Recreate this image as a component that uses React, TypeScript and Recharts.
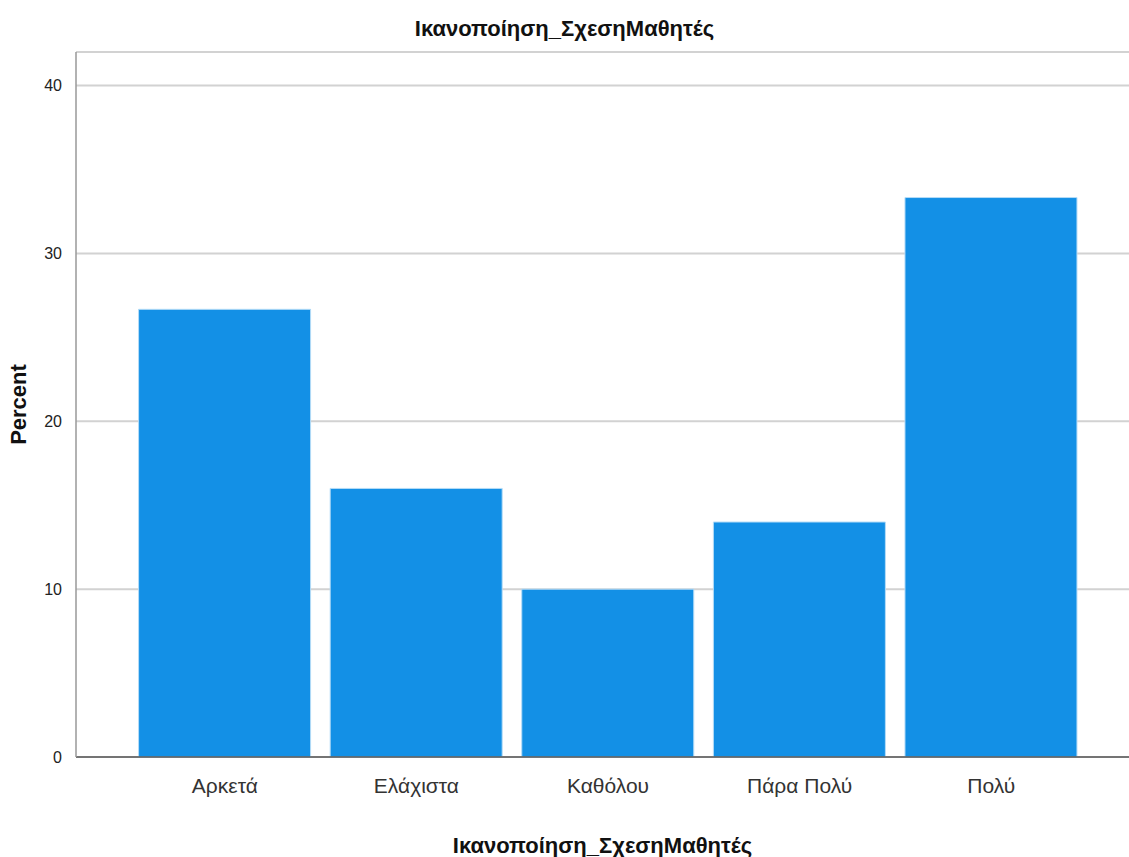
import { Bar, BarChart, CartesianGrid, XAxis, YAxis } from "recharts";

const categories = ["Αρκετά", "Ελάχιστα", "Καθόλου", "Πάρα Πολύ", "Πολύ"];
const percents = [26.67, 16.0, 10.0, 14.0, 33.33];
const yTicks = [0, 10, 20, 30, 40];
const varName = "Ικανοποίηση_ΣχεσηΜαθητές";

const data = categories.map((name, i) => ({ name, value: percents[i] }));

const font = "'Liberation Sans Narrow', 'Arial Narrow', Arial, sans-serif";

const App: React.FC = () => {
  return (
    <div style={{ position: "absolute", left: 0, top: 0, width: 1129, height: 857, background: "#fff", fontFamily: font }}>
      <div
        style={{
          position: "absolute",
          top: 16,
          left: 0,
          width: 1129,
          textAlign: "center",
          fontWeight: "bold",
          fontSize: 22,
          color: "#111",
        }}
      >
        {varName}
      </div>
      <BarChart
        width={1129}
        height={857}
        data={data}
        margin={{ top: 52, right: 0, left: 0, bottom: 0 }}
        barCategoryGap="5%"
      >
        <CartesianGrid vertical={false} stroke="#d2d2d2" strokeWidth={2} />
        <XAxis
          dataKey="name"
          height={100}
          padding={{ left: 53, right: 42 }}
          tickLine={false}
          tickMargin={15}
          axisLine={{ stroke: "#555", strokeWidth: 1.5 }}
          tick={{ fill: "#333", fontSize: 21, fontFamily: font }}
          label={{
            value: varName,
            position: "insideBottom",
            offset: 4,
            style: { fontWeight: "bold", fontSize: 22, fill: "#111", fontFamily: font },
          }}
        />
        <YAxis
          width={76}
          domain={[0, 42]}
          ticks={yTicks}
          tickLine={false}
          tickMargin={8}
          axisLine={{ stroke: "#999", strokeWidth: 1.5 }}
          tick={{ fill: "#222", fontSize: 16, fontFamily: font }}
          label={{
            value: "Percent",
            angle: -90,
            position: "insideLeft",
            offset: 18,
            style: { textAnchor: "middle", fontWeight: "bold", fontSize: 22, fill: "#111", fontFamily: font },
          }}
        />
        <Bar dataKey="value" fill="#1390e6" stroke="#b5dcf7" strokeWidth={1} isAnimationActive={false} />
      </BarChart>
    </div>
  );
};

export default App;
